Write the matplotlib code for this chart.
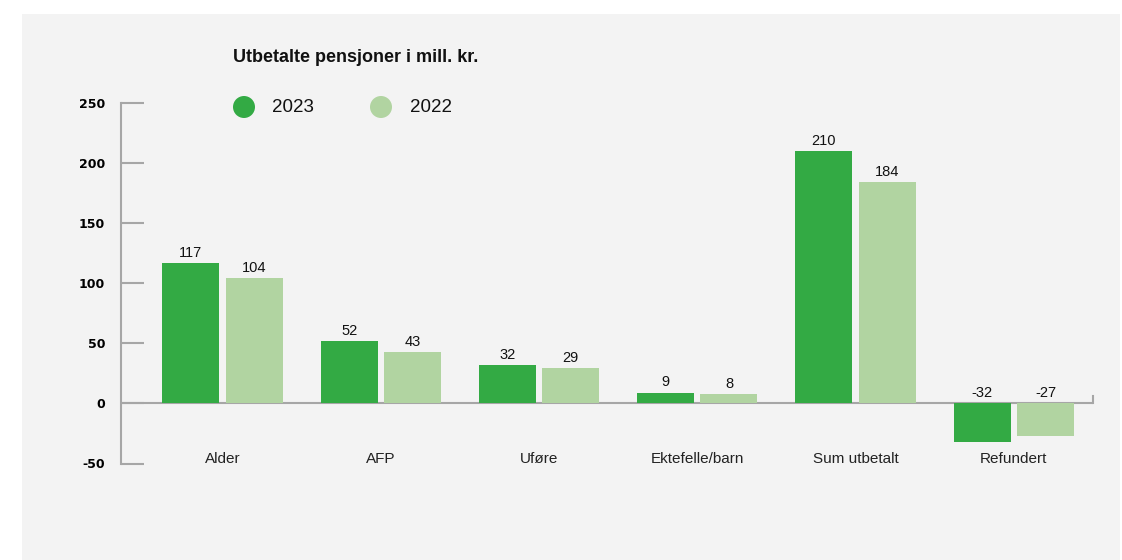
import matplotlib.pyplot as plt
from matplotlib.patches import Rectangle, Ellipse
import numpy as np

categories = ["Alder", "AFP", "Uføre", "Ektefelle/barn", "Sum utbetalt", "Refundert"]
values_2023 = [117, 52, 32, 9, 210, -32]
values_2022 = [104, 43, 29, 8, 184, -27]
series_labels = ["2023", "2022"]
yticks = [-50, 0, 50, 100, 150, 200, 250]

c_2023 = "#33aa44"
c_2022 = "#b1d4a1"
grey = "#a6a6a6"
bg = "#f3f3f3"

plt.rcParams['font.family'] = ['Liberation Sans', 'DejaVu Sans']

W, H = 1122, 560
fig = plt.figure(figsize=(W / 100, H / 100), dpi=100)
fig.patch.set_facecolor("white")
# grått panel bak grafen
fig.patches.append(Rectangle((22 / W, 0), (1120 - 22) / W, (H - 14) / H,
                             transform=fig.transFigure, facecolor=bg,
                             edgecolor="none", zorder=-10))

# aksen plassert i piksler
left, right, top, bottom = 121, 1093, 102.5, 463.5
ax = fig.add_axes([left / W, 1 - bottom / H, (right - left) / W, (bottom - top) / H])
ax.set_facecolor("none")

x = np.arange(len(categories))
bw = 0.36
off = 0.2
ax.bar(x - off, values_2023, bw, color=c_2023, zorder=3)
ax.bar(x + off, values_2022, bw, color=c_2022, zorder=3)

for xi, v in zip(x - off, values_2023):
    ax.text(xi, max(v, 0) + 2.5, str(v), ha="center", va="bottom", fontsize=10.5, color="#111111")
for xi, v in zip(x + off, values_2022):
    ax.text(xi, max(v, 0) + 2.5, str(v), ha="center", va="bottom", fontsize=10.5, color="#111111")

ax.set_xlim(-0.641, 5.5)
ax.set_ylim(-50, 250)

for s in ["top", "right", "bottom"]:
    ax.spines[s].set_visible(False)
ax.spines["left"].set_color(grey)
ax.spines["left"].set_linewidth(1.5)

# nullinje med liten hake til høyre
ax.plot([-0.641, 5.5], [0, 0], color=grey, lw=1.5, zorder=2, clip_on=False, solid_capstyle="butt")
ax.plot([5.5, 5.5], [0, 6], color=grey, lw=1.5, zorder=2, clip_on=False)

ax.set_yticks(yticks)
ax.set_yticklabels([str(t) for t in yticks], fontweight="bold", fontsize=9, family="DejaVu Sans")
ax.tick_params(axis="y", direction="in", length=16.5, width=1.5, color=grey, pad=11.5)
ax.set_xticks([])

for xi, c in zip(x, categories):
    ax.text(xi, -46, c, ha="center", va="center", fontsize=11, color="#222222")

fig.text(233 / W, 1 - 58 / H, "Utbetalte pensjoner i mill. kr.", fontsize=13,
         fontweight="bold", va="center", ha="left", color="#111111")

# legende
for cx, tx, col, lab in [(244, 272, c_2023, series_labels[0]), (381, 410, c_2022, series_labels[1])]:
    fig.patches.append(Ellipse((cx / W, 1 - 107 / H), 22 / W, 22 / H, transform=fig.transFigure,
                               facecolor=col, edgecolor="none"))
    fig.text(tx / W, 1 - 107 / H, lab, fontsize=13.5, va="center", ha="left", color="#111111")

fig.savefig("out.png", dpi=100)
